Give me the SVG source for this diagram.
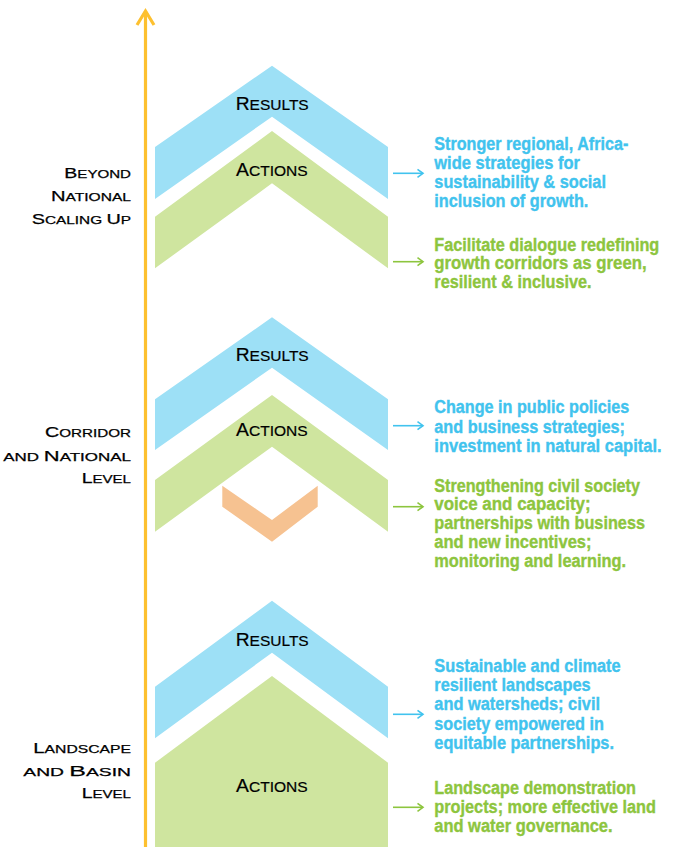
<svg xmlns="http://www.w3.org/2000/svg" width="676" height="847" viewBox="0 0 676 847">
<style>
.bg{fill:#ffffff}
.res{fill:#9DE0F6}
.act{fill:#CFE59F}
.org{fill:#F6C291}
.lbl{font-family:"Liberation Sans",Arial,sans-serif;fill:#000000;stroke:#000000;stroke-width:0.25}
.big{font-size:15px}
.sm{font-size:11.6px}
.ch{font-family:"Liberation Sans",Arial,sans-serif;fill:#000000;stroke:#000000;stroke-width:0.2}
.chb{font-size:18px}
.chs{font-size:14.5px}
.tb{font-family:"Liberation Sans",Arial,sans-serif;font-weight:bold;font-size:17.5px;fill:#41C3EE;stroke:#41C3EE;stroke-width:0.35}
.tg{font-family:"Liberation Sans",Arial,sans-serif;font-weight:bold;font-size:17.5px;fill:#8DC53E;stroke:#8DC53E;stroke-width:0.35}
.ab{stroke:#41C3EE;stroke-width:1.6;fill:none}
.ag{stroke:#8DC53E;stroke-width:1.6;fill:none}
</style>
<rect class="bg" x="0" y="0" width="676" height="847"/>

<g id="axis">
<line x1="145.5" y1="11" x2="145.5" y2="847" stroke="#FDC02F" stroke-width="3.2"/>
<polyline points="137,25 145.5,11 154,25" fill="none" stroke="#FDC02F" stroke-width="3.2" stroke-linejoin="miter"/>
</g>

<g id="level-beyond">
<text class="lbl" x="64.3" y="178.3" textLength="66.7" lengthAdjust="spacingAndGlyphs"><tspan class="big">B</tspan><tspan class="sm">EYOND</tspan></text>
<text class="lbl" x="51" y="201" textLength="80" lengthAdjust="spacingAndGlyphs"><tspan class="big">N</tspan><tspan class="sm">ATIONAL</tspan></text>
<text class="lbl" x="31.7" y="224" textLength="99.3" lengthAdjust="spacingAndGlyphs"><tspan class="big">S</tspan><tspan class="sm">CALING </tspan><tspan class="big">U</tspan><tspan class="sm">P</tspan></text>
</g>

<g id="level-corridor">
<text class="lbl" x="45" y="437.3" textLength="86" lengthAdjust="spacingAndGlyphs"><tspan class="big">C</tspan><tspan class="sm">ORRIDOR</tspan></text>
<text class="lbl" x="3.3" y="460.7" textLength="127.7" lengthAdjust="spacingAndGlyphs"><tspan class="sm">AND </tspan><tspan class="big">N</tspan><tspan class="sm">ATIONAL</tspan></text>
<text class="lbl" x="81.7" y="483.3" textLength="49.3" lengthAdjust="spacingAndGlyphs"><tspan class="big">L</tspan><tspan class="sm">EVEL</tspan></text>
</g>

<g id="level-landscape">
<text class="lbl" x="33.3" y="753.3" textLength="97.7" lengthAdjust="spacingAndGlyphs"><tspan class="big">L</tspan><tspan class="sm">ANDSCAPE</tspan></text>
<text class="lbl" x="23.3" y="775.7" textLength="107.7" lengthAdjust="spacingAndGlyphs"><tspan class="sm">AND </tspan><tspan class="big">B</tspan><tspan class="sm">ASIN</tspan></text>
<text class="lbl" x="81.7" y="798.3" textLength="49.3" lengthAdjust="spacingAndGlyphs"><tspan class="big">L</tspan><tspan class="sm">EVEL</tspan></text>
</g>

<g id="results-1">
<polygon class="res" points="155,147 272,65.7 388,147 388,199 272,116.7 155,199"/>
<text class="ch" x="235.7" y="110" textLength="73" lengthAdjust="spacingAndGlyphs"><tspan class="chb">R</tspan><tspan class="chs">ESULTS</tspan></text>
</g>
<g id="actions-1">
<polygon class="act" points="155,216.7 272,131 388,216.7 388,268.3 272,183.3 155,268.3"/>
<text class="ch" x="236" y="176" textLength="71.7" lengthAdjust="spacingAndGlyphs"><tspan class="chb">A</tspan><tspan class="chs">CTIONS</tspan></text>
</g>

<g id="results-2">
<polygon class="res" points="155,399.3 272,317.3 388,399.3 388,450 272,367.7 155,450"/>
<text class="ch" x="235.7" y="360.7" textLength="73" lengthAdjust="spacingAndGlyphs"><tspan class="chb">R</tspan><tspan class="chs">ESULTS</tspan></text>
</g>
<g id="actions-2">
<polygon class="act" points="155,480 272,395 388,480 388,531.7 272,446.7 155,531.7"/>
<text class="ch" x="236" y="435.7" textLength="71.7" lengthAdjust="spacingAndGlyphs"><tspan class="chb">A</tspan><tspan class="chs">CTIONS</tspan></text>
</g>
<g id="orange-chevron">
<polygon class="org" points="222.3,485.7 272,520 317.7,485.7 317.7,506.7 272,541.7 222.3,506.7"/>
</g>

<g id="results-3">
<polygon class="res" points="155,686.7 272,600.7 388,686.7 388,738.3 272,652.7 155,738.3"/>
<text class="ch" x="235.7" y="646" textLength="73" lengthAdjust="spacingAndGlyphs"><tspan class="chb">R</tspan><tspan class="chs">ESULTS</tspan></text>
</g>
<g id="actions-3">
<polygon class="act" points="155,762.7 272,676 388,762.7 388,847 155,847"/>
<text class="ch" x="236" y="791.7" textLength="71.7" lengthAdjust="spacingAndGlyphs"><tspan class="chb">A</tspan><tspan class="chs">CTIONS</tspan></text>
</g>

<g id="connectors">
<line class="ab" x1="393" y1="173.3" x2="423" y2="173.3"/><polyline class="ab" points="417.5,169.3 423,173.3 417.5,177.3"/>
<line class="ag" x1="393" y1="261.7" x2="423" y2="261.7"/><polyline class="ag" points="417.5,257.7 423,261.7 417.5,265.7"/>
<line class="ab" x1="393" y1="425.7" x2="423" y2="425.7"/><polyline class="ab" points="417.5,421.7 423,425.7 417.5,429.7"/>
<line class="ag" x1="393" y1="506.7" x2="423" y2="506.7"/><polyline class="ag" points="417.5,502.7 423,506.7 417.5,510.7"/>
<line class="ab" x1="393" y1="714.3" x2="423" y2="714.3"/><polyline class="ab" points="417.5,710.3 423,714.3 417.5,718.3"/>
<line class="ag" x1="393" y1="807.3" x2="423" y2="807.3"/><polyline class="ag" points="417.5,803.3 423,807.3 417.5,811.3"/>
</g>

<g id="text-results-1">
<text class="tb" x="434.3" y="150" textLength="194" lengthAdjust="spacingAndGlyphs">Stronger regional, Africa-</text>
<text class="tb" x="434.3" y="169.3" textLength="145.7" lengthAdjust="spacingAndGlyphs">wide strategies for</text>
<text class="tb" x="434.3" y="188.3" textLength="171.7" lengthAdjust="spacingAndGlyphs">sustainability &amp; social</text>
<text class="tb" x="434.3" y="207.3" textLength="154" lengthAdjust="spacingAndGlyphs">inclusion of growth.</text>
</g>
<g id="text-actions-1">
<text class="tg" x="434.3" y="251" textLength="225" lengthAdjust="spacingAndGlyphs">Facilitate dialogue redefining</text>
<text class="tg" x="434.3" y="269.3" textLength="212.3" lengthAdjust="spacingAndGlyphs">growth corridors as green,</text>
<text class="tg" x="434.3" y="287.7" textLength="157.3" lengthAdjust="spacingAndGlyphs">resilient &amp; inclusive.</text>
</g>

<g id="text-results-2">
<text class="tb" x="434.3" y="413.3" textLength="195" lengthAdjust="spacingAndGlyphs">Change in public policies</text>
<text class="tb" x="434.3" y="432.7" textLength="190.7" lengthAdjust="spacingAndGlyphs">and business strategies;</text>
<text class="tb" x="434.3" y="451.7" textLength="227.3" lengthAdjust="spacingAndGlyphs">investment in natural capital.</text>
</g>
<g id="text-actions-2">
<text class="tg" x="434.3" y="491.7" textLength="205.7" lengthAdjust="spacingAndGlyphs">Strengthening civil society</text>
<text class="tg" x="434.3" y="510" textLength="156.3" lengthAdjust="spacingAndGlyphs">voice and capacity;</text>
<text class="tg" x="434.3" y="529.3" textLength="210.7" lengthAdjust="spacingAndGlyphs">partnerships with business</text>
<text class="tg" x="434.3" y="548.3" textLength="157.3" lengthAdjust="spacingAndGlyphs">and new incentives;</text>
<text class="tg" x="434.3" y="566.7" textLength="191.7" lengthAdjust="spacingAndGlyphs">monitoring and learning.</text>
</g>

<g id="text-results-3">
<text class="tb" x="434.3" y="671.7" textLength="186.3" lengthAdjust="spacingAndGlyphs">Sustainable and climate</text>
<text class="tb" x="434.3" y="690.7" textLength="156.3" lengthAdjust="spacingAndGlyphs">resilient landscapes</text>
<text class="tb" x="434.3" y="710" textLength="165.7" lengthAdjust="spacingAndGlyphs">and watersheds; civil</text>
<text class="tb" x="434.3" y="730" textLength="169.7" lengthAdjust="spacingAndGlyphs">society empowered in</text>
<text class="tb" x="434.3" y="749.3" textLength="179.7" lengthAdjust="spacingAndGlyphs">equitable partnerships.</text>
</g>
<g id="text-actions-3">
<text class="tg" x="434.3" y="794" textLength="201.7" lengthAdjust="spacingAndGlyphs">Landscape demonstration</text>
<text class="tg" x="434.3" y="813.3" textLength="221.7" lengthAdjust="spacingAndGlyphs">projects; more effective land</text>
<text class="tg" x="434.3" y="831.7" textLength="178.3" lengthAdjust="spacingAndGlyphs">and water governance.</text>
</g>
</svg>
